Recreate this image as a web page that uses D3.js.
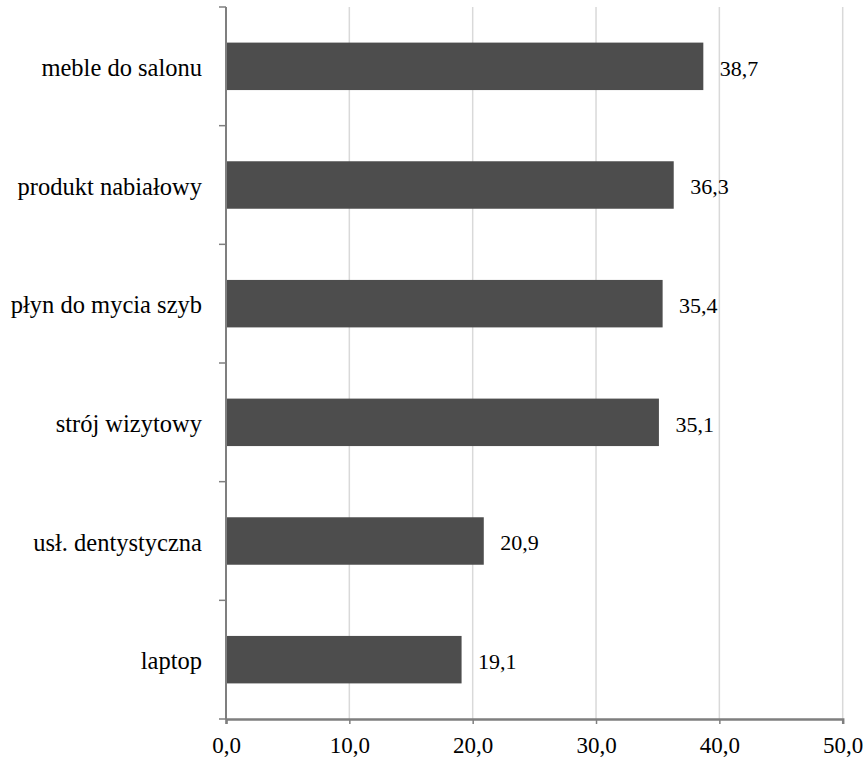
<!DOCTYPE html>
<html>
<head>
<meta charset="utf-8">
<script src="https://cdn.jsdelivr.net/npm/d3@7"></script>
<style>
  html, body { margin: 0; padding: 0; background: #fff; }
</style>
</head>
<body>
<svg id="chart" width="866" height="762"></svg>
<script>
// Categories listed top to bottom, with their values
const categories = ["meble do salonu", "produkt nabiałowy", "płyn do mycia szyb", "strój wizytowy", "usł. dentystyczna", "laptop"];
const values = [38.7, 36.3, 35.4, 35.1, 20.9, 19.1];
const xTicks = [0, 10, 20, 30, 40, 50];

const fmt = v => v.toFixed(1).replace(".", ",");
const serif = "'Liberation Serif'";

const svg = d3.select("#chart");
const margin = { left: 226, right: 24, top: 7, bottom: 43 };
const W = 866, H = 762;

const x = d3.scaleLinear().domain([0, 50]).range([margin.left, W - margin.right + 0.7]);
const y = d3.scaleBand().domain(categories).range([margin.top, H - margin.bottom]).paddingInner(0.6).paddingOuter(0.3);

// vertical gridlines
svg.append("g").selectAll("line")
  .data(xTicks.filter(t => t > 0))
  .join("line")
  .attr("x1", d => x(d)).attr("x2", d => x(d))
  .attr("y1", margin.top).attr("y2", H - margin.bottom)
  .attr("stroke", "#d9d9d9").attr("stroke-width", 1.5);

// bars
svg.append("g").selectAll("rect")
  .data(categories)
  .join("rect")
  .attr("x", x(0))
  .attr("y", d => y(d))
  .attr("width", (d, i) => x(values[i]) - x(0))
  .attr("height", y.bandwidth())
  .attr("fill", "#4d4d4d");

// value labels
svg.append("g").selectAll("text")
  .data(categories)
  .join("text")
  .attr("x", (d, i) => x(values[i]) + 16.5)
  .attr("y", d => y(d) + y.bandwidth() / 2)
  .attr("dy", "0.42em")
  .style("font-family", serif)
  .style("font-size", "22px")
  .style("fill", "#000")
  .text((d, i) => fmt(values[i]));

// category labels
svg.append("g").selectAll("text")
  .data(categories)
  .join("text")
  .attr("x", 202)
  .attr("y", d => y(d) + y.bandwidth() / 2)
  .attr("dy", "0.4em")
  .attr("text-anchor", "end")
  .style("font-family", serif)
  .style("font-size", "24.5px")
  .style("fill", "#000")
  .text(d => d);

// y axis with ticks at band boundaries
const axisColor = "#7f7f7f";
const yBounds = d3.range(categories.length + 1).map(i => margin.top + i * (H - margin.bottom - margin.top) / categories.length);
svg.append("line")
  .attr("x1", x(0)).attr("x2", x(0))
  .attr("y1", margin.top).attr("y2", H - margin.bottom)
  .attr("stroke", axisColor).attr("stroke-width", 2);
svg.append("g").selectAll("line")
  .data(yBounds)
  .join("line")
  .attr("x1", x(0) - 7).attr("x2", x(0))
  .attr("y1", d => d).attr("y2", d => d)
  .attr("stroke", axisColor).attr("stroke-width", 1.5);

// x axis
const xAxis = svg.append("g")
  .attr("transform", `translate(0,${H - margin.bottom})`)
  .call(d3.axisBottom(x).tickValues(xTicks).tickFormat(fmt).tickSize(5).tickPadding(13));
xAxis.select(".domain").attr("stroke", axisColor).attr("stroke-width", 2.5);
xAxis.selectAll(".tick line").attr("stroke", axisColor).attr("stroke-width", 1.5);
xAxis.selectAll(".tick text")
  .style("font-family", serif)
  .style("font-size", "23px")
  .style("fill", "#000");
</script>
</body>
</html>
